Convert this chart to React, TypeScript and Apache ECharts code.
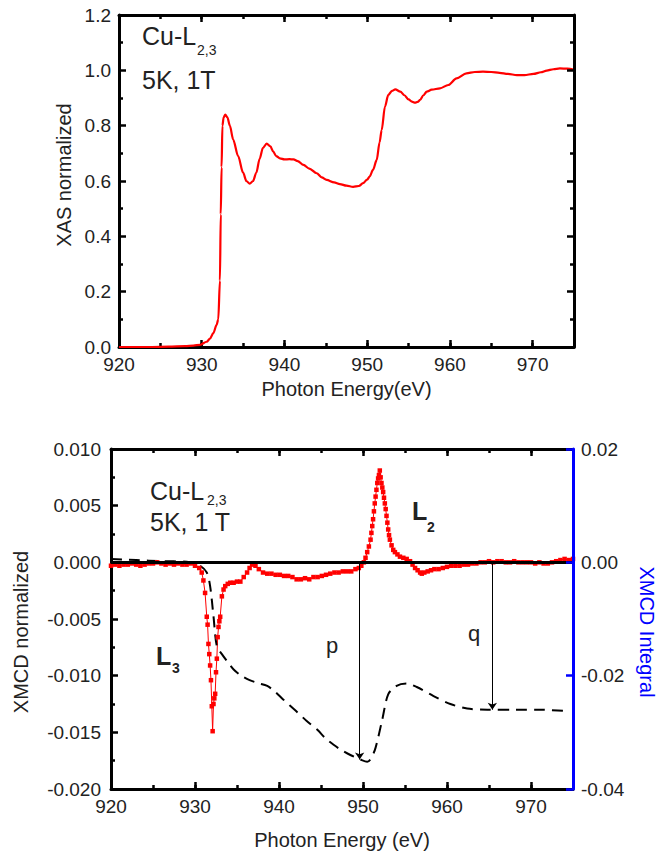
import React, { useEffect, useRef } from 'react';
import * as echarts from 'echarts';

// ---------- data ----------
const xasEnergy = [920, 922, 924, 926, 928, 929, 929.8, 930.6, 931.0, 931.4, 931.8, 932.0, 932.2, 932.3, 932.4, 932.5, 932.65, 932.85, 933.1, 933.4, 933.8, 934.4, 935.0, 935.4, 935.8, 936.2, 936.6, 937.0, 937.4, 937.85, 938.3, 938.65, 939.0, 939.45, 940.0, 940.6, 941.1, 941.6, 942.3, 943.0, 943.9, 944.5, 945.1, 946.0, 946.7, 947.5, 948.3, 949.0, 949.5, 950.0, 950.3, 950.7, 951.15, 951.5, 951.75, 952.15, 952.55, 953.0, 953.4, 954.0, 954.5, 955.0, 955.4, 955.8, 956.1, 956.4, 956.8, 957.2, 957.8, 958.8, 959.8, 960.8, 962.0, 963.0, 964.0, 965.0, 966.0, 967.0, 968.1, 969.0, 970.1, 971.0, 971.7, 972.5, 973.3, 974.2, 975];
const xasValue = [0.0, 0.0, 0.0, 0.001, 0.003, 0.005, 0.008, 0.019, 0.03, 0.05, 0.08, 0.1, 0.24, 0.48, 0.65, 0.8, 0.83, 0.84, 0.83, 0.8, 0.75, 0.69, 0.63, 0.6, 0.59, 0.6, 0.63, 0.68, 0.72, 0.735, 0.725, 0.706, 0.69, 0.682, 0.678, 0.679, 0.678, 0.672, 0.658, 0.645, 0.628, 0.613, 0.604, 0.595, 0.589, 0.583, 0.579, 0.582, 0.592, 0.605, 0.616, 0.64, 0.676, 0.74, 0.784, 0.869, 0.911, 0.926, 0.931, 0.923, 0.91, 0.895, 0.887, 0.883, 0.886, 0.893, 0.91, 0.923, 0.93, 0.935, 0.947, 0.971, 0.989, 0.994, 0.995, 0.994, 0.991, 0.987, 0.983, 0.983, 0.987, 0.993, 0.999, 1.004, 1.007, 1.006, 1.003];

const xmcdEnergy = [920, 920.5, 921, 921.5, 922, 922.5, 923, 923.5, 924, 924.5, 925, 925.5, 926, 926.5, 927, 927.5, 928, 928.5, 929, 929.5, 930, 930.5, 930.8, 931.0, 931.2, 931.4, 931.5, 931.6, 931.7, 931.8, 931.9, 932.0, 932.1, 932.2, 932.3, 932.4, 932.5, 932.6, 932.7, 932.8, 932.9, 933.0, 933.2, 933.4, 933.6, 933.9, 934.2, 934.6, 935.0, 935.4, 935.8, 936.2, 936.5, 936.8, 937.0, 937.2, 937.6, 938.1, 938.6, 939.1, 939.6, 940.1, 940.6, 941.1, 941.6, 942.1, 942.6, 943.1, 943.6, 944.1, 944.6, 945.1, 945.6, 946.1, 946.6, 947.1, 947.6, 948.1, 948.6, 949.1, 949.5, 949.8, 950.1, 950.3, 950.5, 950.7, 950.9, 951.0, 951.1, 951.2, 951.3, 951.4, 951.5, 951.6, 951.7, 951.8, 951.9, 952.0, 952.1, 952.2, 952.3, 952.4, 952.5, 952.6, 952.7, 952.8, 952.9, 953.0, 953.1, 953.2, 953.4, 953.6, 953.8, 954.1, 954.4, 954.8, 955.2, 955.6, 955.9, 956.2, 956.5, 956.8, 957.0, 957.3, 957.7, 958.1, 958.5, 959.0, 959.5, 960.0, 960.5, 961.0, 961.5, 962.0, 962.5, 963.0, 963.5, 964.0, 964.5, 965.0, 965.5, 966.0, 966.5, 967.0, 967.5, 968.0, 968.5, 969.0, 969.5, 970.0, 970.5, 971.0, 971.5, 972.0, 972.5, 973.0, 973.5, 974.0, 974.5, 975.0];
const xmcdValue = [-0.0003, -0.0002, -0.0003, -0.0002, -0.0002, -0.0001, -0.0002, -0.0003, -0.0002, -0.0001, -0.0001, 0.0, -0.0001, -0.0002, -0.0001, -0.0002, -0.0001, -0.0002, -0.0002, -0.0001, -0.0003, -0.0005, -0.0009, -0.0016, -0.0027, -0.0048, -0.0055, -0.0072, -0.0081, -0.0091, -0.0104, -0.0127, -0.0149, -0.0125, -0.012, -0.0116, -0.0097, -0.0085, -0.0066, -0.0057, -0.0052, -0.0048, -0.003, -0.0024, -0.0021, -0.0019, -0.0018, -0.0018, -0.0017, -0.0017, -0.0013, -0.0009, -0.0005, -0.0002, -0.0001, -0.0003, -0.0006, -0.0009, -0.001, -0.001, -0.0011, -0.0011, -0.0012, -0.0012, -0.0013, -0.0015, -0.0015, -0.0014, -0.0015, -0.0013, -0.0013, -0.0012, -0.0011, -0.001, -0.0009, -0.0009, -0.0008, -0.0008, -0.0008, -0.0006, -0.0005, -0.0003, 0.0, 0.0004, 0.0009, 0.0014, 0.002, 0.0026, 0.0032, 0.0038, 0.0045, 0.0052, 0.0058, 0.0064, 0.007, 0.0074, 0.0077, 0.0081, 0.0075, 0.007, 0.0066, 0.0062, 0.0057, 0.0052, 0.0047, 0.0041, 0.0035, 0.0029, 0.0024, 0.002, 0.0015, 0.0011, 0.0009, 0.0007, 0.0005, 0.0004, 0.0003, 0.0001, -0.0002, -0.0005, -0.0007, -0.0009, -0.001, -0.0009, -0.0008, -0.0007, -0.0006, -0.0006, -0.0005, -0.0004, -0.0003, -0.0003, -0.0003, -0.0002, -0.0002, -0.0001, -0.0001, 0.0, 0.0, 0.0001, 0.0, 0.0001, 0.0001, 0.0, 0.0, 0.0001, 0.0, 0.0, 0.0, 0.0, -0.0001, 0.0, -0.0001, -0.0001, 0.0, 0.0001, 0.0002, 0.0003, 0.0002, 0.0003];

const integralEnergy = [920, 923, 926, 929, 930.5, 931.4, 931.8, 932.2, 932.6, 933.2, 934, 934.6, 935.5, 936.5, 937.5, 938.6, 939.5, 940.5, 942, 943.3, 944.6, 945.5, 946.5, 947.3, 948.5, 949.7, 950.5, 951, 951.5, 952.3, 953, 954, 955.2, 956.4, 958.4, 960.4, 962.4, 964.8, 968.3, 971, 973.8];
const integralValue = [0.0006, 0.0004, 0.0002, 0.0001, -0.0005, -0.0018, -0.0042, -0.0095, -0.0148, -0.0162, -0.0178, -0.0189, -0.02, -0.0208, -0.0213, -0.0218, -0.0228, -0.0242, -0.0262, -0.028, -0.0296, -0.031, -0.0322, -0.033, -0.034, -0.0348, -0.0352, -0.0345, -0.0327, -0.0277, -0.0233, -0.0218, -0.0214, -0.022, -0.0236, -0.025, -0.0258, -0.026, -0.026, -0.026, -0.0262];

const arrowEnergies = [949.6, 965.4];
const arrowEnds = [-0.0348, -0.026];

const energyRange = [920, 975];
const xasRange = [0, 1.2];
const xmcdRange = [-0.02, 0.01];
const integralRange = [-0.04, 0.02];

// ---------- style ----------
const FONT = '"Liberation Sans", Arial, Helvetica, sans-serif';
const INK = '#222';
const RED = '#ff0000';
const BLUE = '#0000ff';
const TICK_FONT = 19;

const zip = (xs: number[], ys: number[]) => xs.map((x, i) => [x, ys[i]]);
const fmt = (d: number) => (v: number) => (Math.abs(v) < 1e-9 ? 0 : v).toFixed(d);

function energyAxes(gridIndex: number, name: string, nameGap: number) {
  const base = (position: string, interval: number, major: boolean, labels: boolean, line: boolean) => ({
    type: 'value',
    gridIndex,
    position,
    min: energyRange[0],
    max: energyRange[1],
    interval,
    axisLine: { show: line, onZero: false, lineStyle: { color: '#000', width: 3 } },
    axisTick: { show: true, inside: true, length: major ? 7 : 4, lineStyle: { color: '#000', width: 2.5 } },
    axisLabel: {
      show: labels,
      margin: 8,
      fontSize: TICK_FONT,
      color: INK,
      fontFamily: FONT,
      showMaxLabel: false,
    },
    splitLine: { show: false },
  });
  return [
    {
      ...base('bottom', 10, true, true, true),
      name,
      nameLocation: 'middle',
      nameGap,
      nameTextStyle: { fontSize: 20, color: INK, fontFamily: FONT },
    },
    base('bottom', 5, false, false, false),
    base('top', 10, true, false, true),
    base('top', 5, false, false, false),
  ];
}

function valueAxis(opts: any) {
  const {
    gridIndex, position, range, interval, minor, labels, decimals, name, nameGap, color, nameRotate, namePadding, labelMargin,
  } = opts;
  return {
    type: 'value',
    gridIndex,
    position,
    min: range[0],
    max: range[1],
    interval,
    name,
    nameLocation: 'middle',
    nameGap,
    nameRotate,
    nameTextStyle: { fontSize: 20, color: color === BLUE ? BLUE : INK, fontFamily: FONT, padding: namePadding },
    axisLine: { show: true, onZero: false, lineStyle: { color, width: 3 } },
    axisTick: { show: true, inside: true, length: 7, lineStyle: { color, width: 2.5 } },
    minorTick: { show: minor, splitNumber: 2, length: 4, lineStyle: { color, width: 2.5 } },
    axisLabel: {
      show: labels,
      margin: labelMargin ?? 8,
      fontSize: TICK_FONT,
      color: INK,
      fontFamily: FONT,
      formatter: fmt(decimals),
    },
    splitLine: { show: false },
    minorSplitLine: { show: false },
    z: position === 'right' ? 5 : 3,
  };
}

function txt(x: number, y: number, text: string, size: number, opts: any = {}) {
  return {
    type: 'text',
    x,
    y,
    z: 100,
    silent: true,
    style: {
      text,
      fill: INK,
      fontSize: size,
      fontFamily: FONT,
      fontWeight: opts.bold ? 'bold' : 'normal',
      align: opts.align || 'left',
      textAlign: opts.align || 'left',
      verticalAlign: 'middle',
      textVerticalAlign: 'middle',
    },
  };
}

export default function App() {
  const ref = useRef<HTMLDivElement>(null);

  useEffect(() => {
    if (!ref.current) return;
    const chart = echarts.init(ref.current, null, { renderer: 'svg' });

    const option: any = {
      animation: false,
      backgroundColor: '#ffffff',
      grid: [
        { left: 119, top: 15, width: 455, height: 332, containLabel: false },
        { left: 111, top: 449, width: 462, height: 340, containLabel: false },
      ],
      xAxis: [
        ...energyAxes(0, 'Photon Energy(eV)', 32),
        ...energyAxes(1, 'Photon Energy (eV)', 41),
      ],
      yAxis: [
        valueAxis({ gridIndex: 0, position: 'left', range: xasRange, interval: 0.2, minor: true, labels: true, decimals: 1, name: 'XAS normalized', nameGap: 42, color: '#000', namePadding: [0, 0, 0, 12] }),
        valueAxis({ gridIndex: 0, position: 'right', range: xasRange, interval: 0.2, minor: true, labels: false, decimals: 1, color: '#000' }),
        valueAxis({ gridIndex: 1, position: 'left', range: xmcdRange, interval: 0.005, minor: true, labels: true, decimals: 3, name: 'XMCD normalized', nameGap: 80, color: '#000', namePadding: [0, 26, 0, 0], labelMargin: 10 }),
        valueAxis({ gridIndex: 1, position: 'right', range: integralRange, interval: 0.02, minor: false, labels: true, decimals: 2, name: 'XMCD Integral', nameGap: 64, nameRotate: -90, color: BLUE, namePadding: [0, 0, 0, 26] }),
      ],
      series: [
        {
          name: 'XAS',
          type: 'line',
          xAxisIndex: 0,
          yAxisIndex: 0,
          data: zip(xasEnergy, xasValue),
          showSymbol: false,
          smooth: 0.3,
          smoothMonotone: 'x',
          lineStyle: { color: RED, width: 2.2 },
          itemStyle: { color: RED },
          silent: true,
        },
        {
          name: 'XMCD',
          type: 'line',
          xAxisIndex: 4,
          yAxisIndex: 2,
          data: zip(xmcdEnergy, xmcdValue),
          symbol: 'rect',
          symbolSize: 4.5,
          showAllSymbol: true,
          lineStyle: { color: RED, width: 1 },
          itemStyle: { color: RED },
          silent: true,
          markLine: {
            silent: true,
            symbol: ['none', 'none'],
            label: { show: false },
            lineStyle: { color: '#000', width: 3, type: 'solid' },
            data: [{ yAxis: 0 }],
          },
        },
        {
          name: 'XMCD Integral',
          type: 'line',
          xAxisIndex: 4,
          yAxisIndex: 3,
          data: zip(integralEnergy, integralValue),
          showSymbol: false,
          smooth: 0.3,
          lineStyle: { color: '#000', width: 2, type: [11, 7] },
          itemStyle: { color: '#000' },
          silent: true,
          markLine: {
            silent: true,
            symbol: ['none', 'arrow'],
            symbolSize: 7,
            label: { show: false },
            lineStyle: { color: '#000', width: 1, type: 'solid' },
            data: arrowEnergies.map((e, i) => [{ coord: [e, 0] }, { coord: [e, arrowEnds[i]] }]),
          },
        },
      ],
      graphic: [
        txt(142, 36, 'Cu-L', 25),
        txt(197, 50, '2,3', 14),
        txt(142, 80, '5K, 1T', 25),
        txt(150, 491, 'Cu-L', 25),
        txt(207, 500, '2,3', 14),
        txt(150, 522, '5K, 1 T', 25),
        txt(156, 656, 'L', 25, { bold: true }),
        txt(172, 668, '3', 14, { bold: true }),
        txt(412, 511, 'L', 25, { bold: true }),
        txt(427, 527, '2', 14, { bold: true }),
        txt(332, 645, 'p', 22, { align: 'center' }),
        txt(474, 633, 'q', 22, { align: 'center' }),
      ],
    };

    chart.setOption(option);
    return () => chart.dispose();
  }, []);

  return (
    <div
      ref={ref}
      style={{ position: 'fixed', left: 0, top: 0, width: 667, height: 856, background: '#fff' }}
    />
  );
}
